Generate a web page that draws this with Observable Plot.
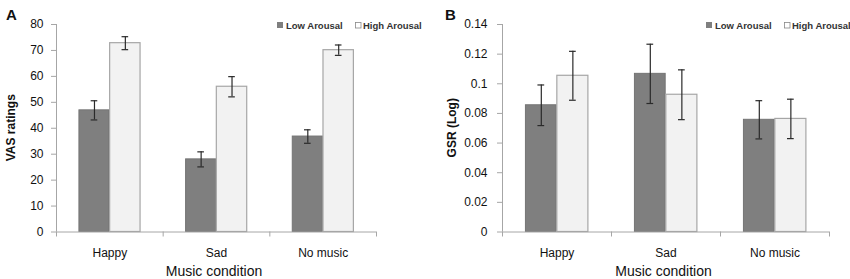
<!DOCTYPE html>
<html><head><meta charset="utf-8">
<script src="https://cdn.jsdelivr.net/npm/d3@7"></script>
<script src="https://cdn.jsdelivr.net/npm/@observablehq/plot@0.6"></script>
<style>
body{margin:0;background:#fff;}
#wrap{display:flex;width:850px;height:279px;overflow:hidden;}
#wrap svg{display:block;}
</style></head><body><div id="wrap"></div>
<script>
const categories = ["Happy", "Sad", "No music"];
const seriesNames = ["Low Arousal", "High Arousal"];
const vasLow = [46.9, 28.0, 36.8];
const vasLowErr = [3.7, 2.9, 2.6];
const vasHigh = [72.8, 56.0, 70.1];
const vasHighErr = [2.5, 3.9, 2.0];
const gsrLow = [0.0855, 0.1067, 0.0757];
const gsrLowErr = [0.0137, 0.0200, 0.0129];
const gsrHigh = [0.1054, 0.0926, 0.0763];
const gsrHighErr = [0.0165, 0.0168, 0.0133];
const vasTicks = [0, 10, 20, 30, 40, 50, 60, 70, 80];
const gsrTicks = [0, 0.02, 0.04, 0.06, 0.08, 0.1, 0.12, 0.14];
const panelLetters = ["A", "B"];
const yTitles = ["VAS ratings", "GSR (Log)"];
const xTitle = "Music condition";

const FONT = "'Liberation Sans', Arial, sans-serif";

function panel({letter, yLabel, low, lowErr, high, highErr, ticks, ml, mr, tickPad, yLabelX, letterX, legendX}) {
  const rows = [];
  categories.forEach((cat, i) => {
    rows.push({cat, i, series: seriesNames[0], value: low[i], err: lowErr[i]});
    rows.push({cat, i, series: seriesNames[1], value: high[i], err: highErr[i]});
  });
  const yMax = ticks[ticks.length - 1];
  const isLow = d => d.series === seriesNames[0];
  const X1 = d => d.i + 0.5 + (isLow(d) ? -0.285 : 0.003);
  const X2 = d => d.i + 0.5 + (isLow(d) ? -0.003 : 0.288);
  const XC = d => (X1(d) + X2(d)) / 2;
  const cap = 0.031;
  const W = 425, H = 279, mt = 24, mb = 47.5;
  const svg = Plot.plot({
    width: W, height: H, marginLeft: ml, marginRight: mr, marginTop: mt, marginBottom: mb,
    style: {fontFamily: FONT, fontSize: "12px", background: "#fff", color: "#111"},
    x: {domain: [0, 3], axis: null},
    y: {domain: [0, yMax], axis: null},
    marks: [
      Plot.rectY(rows.filter(isLow), {x1: X1, x2: X2, y: "value", fill: "#7f7f7f", stroke: "#747474", strokeWidth: 1}),
      Plot.rectY(rows.filter(d => !isLow(d)), {x1: X1, x2: X2, y: "value", fill: "#f2f2f2", stroke: "#a6a6a6", strokeWidth: 1.2}),
      Plot.ruleX(rows, {x: XC, y1: d => d.value - d.err, y2: d => d.value + d.err, stroke: "#2a2a2a", strokeWidth: 1.2}),
      Plot.ruleY(rows, {y: d => d.value + d.err, x1: d => XC(d) - cap, x2: d => XC(d) + cap, stroke: "#2a2a2a", strokeWidth: 1.2}),
      Plot.ruleY(rows, {y: d => d.value - d.err, x1: d => XC(d) - cap, x2: d => XC(d) + cap, stroke: "#2a2a2a", strokeWidth: 1.2}),
      Plot.ruleX([0], {y1: 0, y2: yMax, stroke: "#a6a6a6"}),
      Plot.ruleY([0], {x1: 0, x2: 3, stroke: "#a6a6a6"}),
      Plot.axisY({ticks, tickSize: 5, tickPadding: tickPad, stroke: "#a6a6a6", fill: "#111", label: null, tickFormat: d => String(d)}),
      Plot.axisX({ticks: [0, 1, 2, 3], tickSize: 5, tickFormat: () => "", stroke: "#a6a6a6", label: null}),
      Plot.axisX({ticks: categories.map((c, i) => i + 0.5), tickSize: 0, tickPadding: 16, fill: "#111", label: null, tickFormat: d => categories[Math.floor(d)]})
    ]
  });
  const s = d3.select(svg);
  s.append("text").attr("x", letterX).attr("y", 20).attr("text-anchor", "start").attr("font-family", FONT).attr("font-size", 15).attr("font-weight", "bold").attr("fill", "#111").text(letter);
  s.append("text").attr("transform", `translate(${yLabelX},${(mt + H - mb) / 2}) rotate(-90)`).attr("text-anchor", "middle")
    .attr("font-family", FONT).attr("font-size", 12).attr("font-weight", "bold").attr("fill", "#111").text(yLabel);
  s.append("text").attr("x", (ml + W - mr) / 2 - 2).attr("y", 276).attr("text-anchor", "middle").attr("font-family", FONT).attr("font-size", 14).attr("fill", "#111").text(xTitle);
  const lg = s.append("g").attr("font-family", FONT).attr("font-size", 9.5).attr("font-weight", "bold").attr("fill", "#333").attr("text-anchor", "start");
  lg.append("rect").attr("x", legendX).attr("y", 22).attr("width", 6).attr("height", 6).attr("fill", "#7f7f7f");
  lg.append("text").attr("x", legendX + 9).attr("y", 28.5).attr("text-anchor", "start").text(seriesNames[0]);
  lg.append("rect").attr("x", legendX + 78.5).attr("y", 22.5).attr("width", 5.5).attr("height", 5.5).attr("fill", "#fff").attr("stroke", "#888").attr("stroke-width", 0.8);
  lg.append("text").attr("x", legendX + 86).attr("y", 28.5).attr("text-anchor", "start").text(seriesNames[1]);
  return svg;
}

const wrap = document.getElementById("wrap");
wrap.appendChild(panel({letter: panelLetters[0], yLabel: yTitles[0], low: vasLow, lowErr: vasLowErr, high: vasHigh, highErr: vasHighErr,
  ticks: vasTicks, ml: 56, mr: 49, tickPad: 8, yLabelX: 15, letterX: 6, legendX: 277}));
wrap.appendChild(panel({letter: panelLetters[1], yLabel: yTitles[1], low: gsrLow, lowErr: gsrLowErr, high: gsrHigh, highErr: gsrHighErr,
  ticks: gsrTicks, ml: 77, mr: 21, tickPad: 10, yLabelX: 31, letterX: 20, legendX: 281}));
</script>
</body></html>
